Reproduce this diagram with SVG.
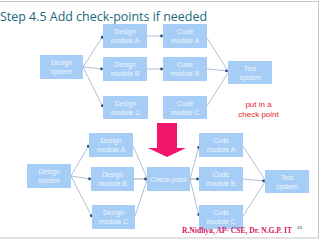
<svg xmlns="http://www.w3.org/2000/svg" width="320" height="240" viewBox="0 0 320 240">
<style>
.b{fill:#a6cdf5}
.t{font-family:"Liberation Sans",Arial,sans-serif;font-size:6.8px;fill:#eef5fd;text-anchor:middle}
.c{fill:none;stroke:#7896b4;stroke-width:0.6}
.d{stroke:#4d6680}
.r{font-family:"Liberation Sans",Arial,sans-serif;font-size:8px;fill:#e3262b;text-anchor:middle}
</style>
<defs>
<marker id="m" viewBox="0 0 4 4" refX="3.5" refY="2" markerWidth="4" markerHeight="4" markerUnits="userSpaceOnUse" orient="auto">
<circle cx="2" cy="2" r="1.4" fill="#2c4d74"/>
</marker>
</defs>
<rect x="0" y="0" width="320" height="240" fill="#ffffff"/>
<rect x="-1" y="1.5" width="319.5" height="236.5" fill="none" stroke="#c4c4c4" stroke-width="1"/>
<text x="0" y="21" font-family="'Open Sans','Noto Sans',sans-serif" font-size="13" fill="#22687a" textLength="207" lengthAdjust="spacingAndGlyphs">Step 4.5 Add check-points if needed</text>

<g id="connectors">
<path class="c" marker-end="url(#m)" d="M83 67 L103 36"/>
<path class="c" marker-end="url(#m)" d="M83 67 L103 69"/>
<path class="c" marker-end="url(#m)" d="M83 67 L103 107"/>
<path class="c" marker-end="url(#m)" d="M147 36 L163 36"/>
<path class="c" marker-end="url(#m)" d="M147 69 L163 69"/>
<path class="c" d="M207 38 L228 71"/>
<path class="c" marker-end="url(#m)" d="M207 69 L228 71"/>
<path class="c" d="M207 106 L228 73"/>

<path class="c" marker-end="url(#m)" d="M71 176 L89 145"/>
<path class="c" marker-end="url(#m)" d="M71 176 L91 179"/>
<path class="c" marker-end="url(#m)" d="M71 176 L92 217"/>
<path class="c" d="M133 146 L147 178"/>
<path class="c d" marker-end="url(#m)" d="M134 179 L147 179"/>
<path class="c" d="M135 216 L147 180"/>
<path class="c" marker-end="url(#m)" d="M190 179 L199 146"/>
<path class="c d" marker-end="url(#m)" d="M190 179 L199 179"/>
<path class="c" marker-end="url(#m)" d="M190 179 L199 216"/>
<path class="c" d="M243 146 L265 180"/>
<path class="c" marker-end="url(#m)" d="M243 179 L265 181"/>
<path class="c" d="M243 216 L265 182"/>
</g>

<g id="t_design_system"><rect class="b" x="40" y="55" width="43" height="24"/><text class="t" x="61.5" y="65">Design</text><text class="t" x="61.5" y="74">system</text></g>
<g id="t_design_a"><rect class="b" x="103" y="24" width="44" height="24"/><text class="t" x="125" y="34">Design</text><text class="t" x="125" y="43">module A</text></g>
<g id="t_design_b"><rect class="b" x="103" y="57" width="44" height="24"/><text class="t" x="125" y="67">Design</text><text class="t" x="125" y="76">module B</text></g>
<g id="t_design_c"><rect class="b" x="103" y="96" width="45" height="23"/><text class="t" x="125.5" y="105.5">Design</text><text class="t" x="125.5" y="114.5">module C</text></g>
<g id="t_code_a"><rect class="b" x="163" y="24" width="44" height="24"/><text class="t" x="185" y="34">Code</text><text class="t" x="185" y="43">module A</text></g>
<g id="t_code_b"><rect class="b" x="163" y="57" width="44" height="24"/><text class="t" x="185" y="67">Code</text><text class="t" x="185" y="76">module B</text></g>
<g id="t_code_c"><rect class="b" x="163" y="96" width="44" height="23"/><text class="t" x="185" y="105.5">Code</text><text class="t" x="185" y="114.5">module C</text></g>
<g id="t_test"><rect class="b" x="228" y="61" width="44" height="23"/><text class="t" x="250" y="70.5">Test</text><text class="t" x="250" y="79.5">system</text></g>

<g id="note"><text class="r" x="258.5" y="107">put in a</text><text class="r" x="258.5" y="117">check point</text></g>

<g id="big_arrow"><path d="M157 123 H177 V148 H186 L167 157 L148 148 H157 Z" fill="#f2156c"/></g>

<g id="b_design_system"><rect class="b" x="27" y="164" width="44" height="24"/><text class="t" x="49" y="174">Design</text><text class="t" x="49" y="183">system</text></g>
<g id="b_design_a"><rect class="b" x="89" y="133" width="44" height="24"/><text class="t" x="111" y="143">Design</text><text class="t" x="111" y="152">module A</text></g>
<g id="b_design_b"><rect class="b" x="91" y="167" width="43" height="24"/><text class="t" x="112.5" y="177">Design</text><text class="t" x="112.5" y="186">module B</text></g>
<g id="b_design_c"><rect class="b" x="92" y="205" width="43" height="24"/><text class="t" x="113.5" y="215">Design</text><text class="t" x="113.5" y="224">module C</text></g>
<g id="b_check"><rect class="b" x="147" y="167" width="43" height="24"/><text class="t" x="168.5" y="181.5">Check-point</text></g>
<g id="b_code_a"><rect class="b" x="199" y="133" width="44" height="24"/><text class="t" x="221" y="143">Code</text><text class="t" x="221" y="152">module A</text></g>
<g id="b_code_b"><rect class="b" x="199" y="167" width="44" height="24"/><text class="t" x="221" y="177">Code</text><text class="t" x="221" y="186">module B</text></g>
<g id="b_code_c"><rect class="b" x="199" y="205" width="44" height="24"/><text class="t" x="221" y="215">Code</text><text class="t" x="221" y="224">module C</text></g>
<g id="b_test"><rect class="b" x="265" y="170" width="44" height="23"/><text class="t" x="287" y="179.5">Test</text><text class="t" x="287" y="188.5">system</text></g>

<text x="182" y="233" font-family="'Liberation Serif','Times New Roman',serif" font-size="7.6" font-weight="bold" fill="#d4185e" textLength="110" lengthAdjust="spacingAndGlyphs">R.Nidhya, AP- CSE, Dr. N.G.P. IT</text>
<text x="297" y="229" font-family="'Liberation Serif',serif" font-size="5" font-weight="bold" fill="#3d7a86">23</text>
</svg>
